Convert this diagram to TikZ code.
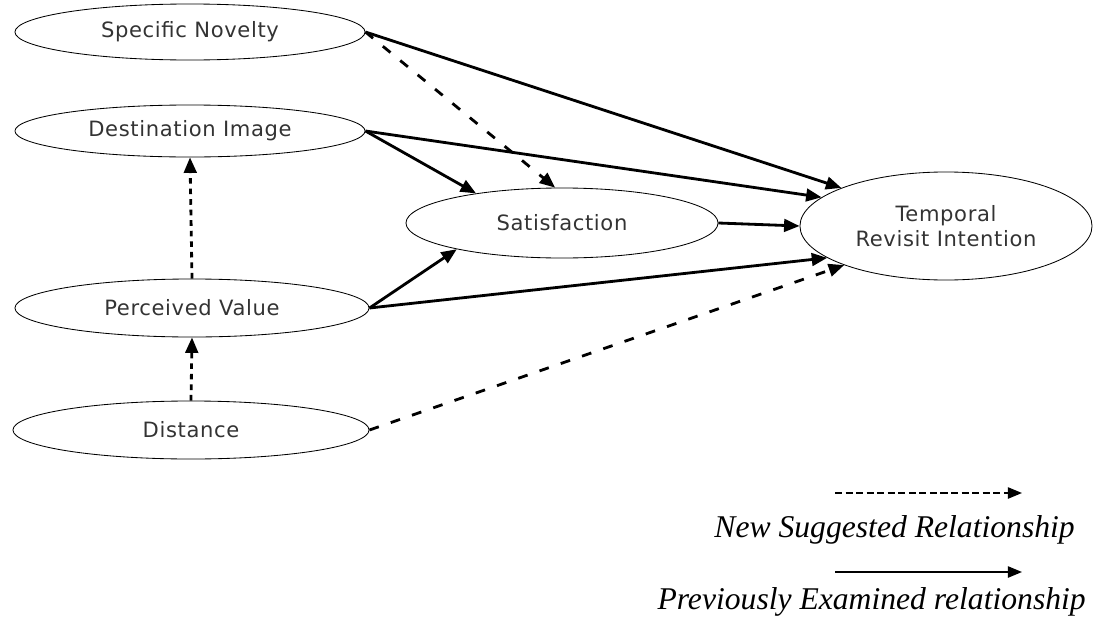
\documentclass[tikz,border=0pt]{standalone}
\usepackage{fontspec}
\usepackage{tikz}
\usetikzlibrary{shapes.geometric,arrows.meta}
\newfontfamily\ovalfont{DejaVu Sans}[LetterSpace=3]
\newfontfamily\keyfont{Liberation Serif}

\begin{document}
\begin{tikzpicture}[x=0.025cm, y=-0.025cm,
	construct/.style={draw, line width=0.6pt, ellipse, inner sep=0pt, text=black!80, font=\ovalfont\fontsize{15}{18}\selectfont},
	examined/.style={line width=2pt, -{Triangle[length=11pt, width=9pt]}},
	suggested/.style={examined, dash pattern=on 7pt off 9pt},
	keyline/.style={line width=1.1pt, -{Triangle[length=10pt, width=8pt]}},
	keytext/.style={anchor=east, inner sep=0pt, font=\keyfont\itshape\fontsize{22.5}{27}\selectfont}]
	\useasboundingbox (0,0) rectangle (1094,619);

	\node[construct, minimum width=8.75cm, minimum height=1.4cm] (novelty) at (190,32) {Specific Novelty};
	\node[construct, minimum width=8.75cm, minimum height=1.3cm] (image) at (190,131) {Destination Image};
	\node[construct, minimum width=8.85cm, minimum height=1.45cm] (value) at (192,308) {Perceived Value};
	\node[construct, minimum width=8.9cm, minimum height=1.45cm] (distance) at (191,430) {Distance};
	\node[construct, minimum width=7.8cm, minimum height=1.75cm] (satisfaction) at (562,223) {Satisfaction};
	\node[construct, minimum width=7.3cm, minimum height=2.7cm, align=center] (revisit) at (946,226) {Temporal\\Revisit Intention};

	% paths into the outcome
	\draw[examined] (novelty.east) -- (revisit.160);
	\draw[examined] (image.east) -- (revisit.167);
	\draw[examined] (satisfaction.east) -- (revisit.west);
	\draw[examined] (value.east) -- (revisit.195);
	\draw[suggested] (distance.east) -- (revisit.201);

	% paths into satisfaction
	\draw[suggested] (novelty.east) -- (satisfaction.101);
	\draw[examined] (image.east) -- (satisfaction.161);
	\draw[examined] (value.east) -- (satisfaction.194);

	% antecedents
	\draw[examined, dash pattern=on 4pt off 3.5pt] (value.north) -- (image.south);
	\draw[examined, dash pattern=on 4pt off 3.5pt] (distance.north) -- (value.south);

	% key
	\coordinate (newfrom) at (835,493);
	\coordinate (newto) at (1022,493);
	\coordinate (oldfrom) at (835,572);
	\coordinate (oldto) at (1022,572);
	\draw[keyline, dash pattern=on 5pt off 2.5pt] (newfrom) -- (newto);
	\draw[keyline] (oldfrom) -- (oldto);
	\node[keytext] (newkey) at (1075,530) {New Suggested Relationship};
	\node[keytext] (oldkey) at (1086,602) {Previously Examined relationship};
\end{tikzpicture}
\end{document}
